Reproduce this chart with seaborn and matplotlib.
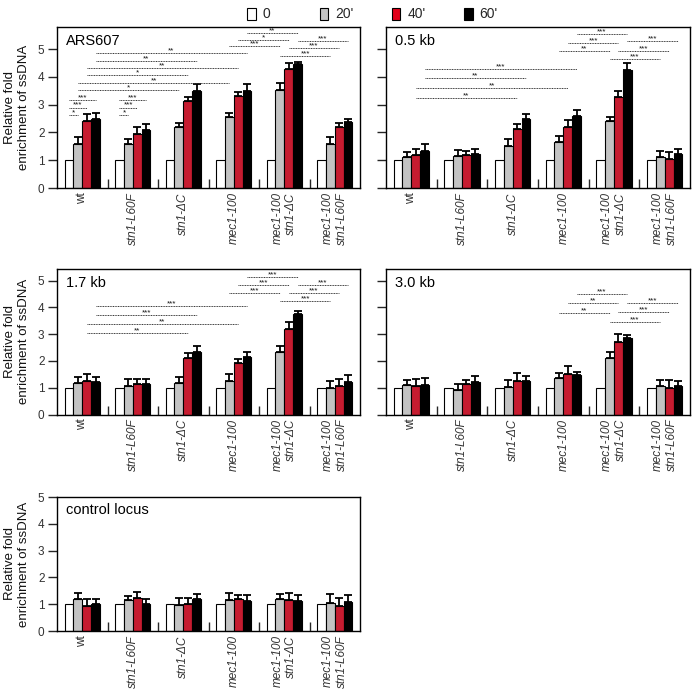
import numpy as np
import pandas as pd
import matplotlib
matplotlib.use("Agg")
import matplotlib.pyplot as plt
import seaborn as sns
from matplotlib.patches import Patch
from matplotlib.ticker import FixedLocator

# ---------------- data ----------------
genotypes = ["wt", "stn1-L60F", "stn1-ΔC", "mec1-100",
             "mec1-100\nstn1-ΔC", "mec1-100\nstn1-L60F"]
times = ["0", "20'", "40'", "60'"]
time_colors = ["#ffffff", "#c3c3c3", "#e2001a", "#000000"]

panel_titles = ["ARS607", "0.5 kb", "1.7 kb", "3.0 kb", "control locus"]

# means (0 min is always 1)
ars_t20 = [1.60, 1.60, 2.18, 2.57, 3.52, 1.58]
ars_t40 = [2.41, 1.96, 3.13, 3.31, 4.27, 2.20]
ars_t60 = [2.47, 2.08, 3.48, 3.51, 4.45, 2.37]
ars_e20 = [0.22, 0.18, 0.16, 0.12, 0.25, 0.24]
ars_e40 = [0.24, 0.22, 0.16, 0.16, 0.22, 0.13]
ars_e60 = [0.22, 0.23, 0.27, 0.22, 0.10, 0.10]

kb05_t20 = [1.12, 1.16, 1.53, 1.65, 2.41, 1.12]
kb05_t40 = [1.18, 1.20, 2.11, 2.18, 3.29, 1.05]
kb05_t60 = [1.34, 1.24, 2.47, 2.59, 4.24, 1.22]
kb05_e20 = [0.16, 0.20, 0.22, 0.24, 0.16, 0.23]
kb05_e40 = [0.24, 0.13, 0.20, 0.28, 0.20, 0.23]
kb05_e60 = [0.24, 0.15, 0.20, 0.21, 0.25, 0.20]

kb17_t20 = [1.19, 1.07, 1.16, 1.26, 2.32, 1.00]
kb17_t40 = [1.26, 1.12, 2.12, 1.93, 3.19, 1.07]
kb17_t60 = [1.20, 1.14, 2.34, 2.16, 3.74, 1.20]
kb17_e20 = [0.20, 0.24, 0.24, 0.24, 0.23, 0.26]
kb17_e40 = [0.27, 0.19, 0.19, 0.14, 0.25, 0.24]
kb17_e60 = [0.21, 0.20, 0.21, 0.18, 0.11, 0.26]

kb30_t20 = [1.11, 0.91, 1.02, 1.37, 2.09, 1.06]
kb30_t40 = [1.06, 1.15, 1.24, 1.52, 2.69, 1.00]
kb30_t60 = [1.11, 1.20, 1.24, 1.47, 2.86, 1.07]
kb30_e20 = [0.16, 0.24, 0.25, 0.19, 0.23, 0.21]
kb30_e40 = [0.28, 0.15, 0.31, 0.29, 0.31, 0.27]
kb30_e60 = [0.25, 0.25, 0.18, 0.10, 0.09, 0.18]

ctl_t20 = [1.18, 1.16, 0.96, 1.14, 1.21, 1.05]
ctl_t40 = [0.93, 1.23, 0.99, 1.18, 1.16, 0.93]
ctl_t60 = [0.99, 0.99, 1.19, 1.11, 1.11, 1.08]
ctl_e20 = [0.25, 0.13, 0.29, 0.26, 0.18, 0.34]
ctl_e40 = [0.25, 0.21, 0.26, 0.18, 0.27, 0.31]
ctl_e60 = [0.22, 0.20, 0.19, 0.25, 0.22, 0.25]

# significance: (group1, time1, group2, time2, y, label)
ars_sig = [(0, 0, 0, 1, 2.63, "*"), (0, 0, 0, 2, 2.90, "***"), (0, 0, 0, 3, 3.18, "***"),
           (1, 0, 1, 1, 2.63, "*"), (1, 0, 1, 2, 2.90, "***"), (1, 0, 1, 3, 3.18, "***"),
           (0, 1, 2, 1, 3.52, "*"), (0, 1, 3, 1, 3.80, "**"), (0, 2, 2, 2, 4.07, "*"),
           (0, 2, 3, 2, 4.34, "**"), (0, 3, 2, 3, 4.59, "**"), (0, 3, 3, 3, 4.86, "**"),
           (3, 1, 4, 1, 5.12, "***"), (3, 2, 4, 2, 5.34, "*"), (3, 3, 4, 3, 5.58, "**"),
           (4, 1, 5, 1, 4.76, "***"), (4, 2, 5, 2, 5.04, "***"), (4, 3, 5, 3, 5.31, "***")]
kb05_sig = [(0, 2, 2, 2, 3.25, "**"), (0, 2, 3, 2, 3.61, "**"), (0, 3, 2, 3, 3.95, "**"),
            (0, 3, 3, 3, 4.29, "***"),
            (3, 1, 4, 1, 4.95, "**"), (3, 2, 4, 2, 5.24, "***"), (3, 3, 4, 3, 5.53, "***"),
            (4, 1, 5, 1, 4.63, "***"), (4, 2, 5, 2, 4.95, "***"), (4, 3, 5, 3, 5.28, "***")]
kb17_sig = [(0, 2, 2, 2, 3.05, "**"), (0, 2, 3, 2, 3.39, "**"), (0, 3, 2, 3, 3.71, "***"),
            (0, 3, 3, 3, 4.04, "***"),
            (3, 1, 4, 1, 4.53, "***"), (3, 2, 4, 2, 4.83, "***"), (3, 3, 4, 3, 5.13, "***"),
            (4, 1, 5, 1, 4.23, "***"), (4, 2, 5, 2, 4.53, "***"), (4, 3, 5, 3, 4.84, "***")]
kb30_sig = [(3, 1, 4, 1, 3.79, "**"), (3, 2, 4, 2, 4.15, "**"), (3, 3, 4, 3, 4.51, "***"),
            (4, 1, 5, 1, 3.44, "***"), (4, 2, 5, 2, 3.81, "***"), (4, 3, 5, 3, 4.16, "***")]
ctl_sig = []

# ---------------- style ----------------
sns.set_style("ticks")
plt.rcParams["font.family"] = ["Liberation Sans", "DejaVu Sans"]
plt.rcParams["axes.linewidth"] = 1.0

fig = plt.figure(figsize=(6.93, 6.95), dpi=100)
W, H = 693.0, 695.0


def rect(x0, x1, ytop, ybot):
    return [x0 / W, 1 - ybot / H, (x1 - x0) / W, (ybot - ytop) / H]


panels = [
    dict(title=panel_titles[0], t=(ars_t20, ars_t40, ars_t60), e=(ars_e20, ars_e40, ars_e60),
         sig=ars_sig, rect=rect(57, 360, 27, 188), ymax=5.8, ylab=True),
    dict(title=panel_titles[1], t=(kb05_t20, kb05_t40, kb05_t60), e=(kb05_e20, kb05_e40, kb05_e60),
         sig=kb05_sig, rect=rect(386, 690, 27, 188), ymax=5.8, ylab=False),
    dict(title=panel_titles[2], t=(kb17_t20, kb17_t40, kb17_t60), e=(kb17_e20, kb17_e40, kb17_e60),
         sig=kb17_sig, rect=rect(57, 360, 269, 414.5), ymax=5.43, ylab=True),
    dict(title=panel_titles[3], t=(kb30_t20, kb30_t40, kb30_t60), e=(kb30_e20, kb30_e40, kb30_e60),
         sig=kb30_sig, rect=rect(386, 690, 269, 414.5), ymax=5.43, ylab=False),
    dict(title=panel_titles[4], t=(ctl_t20, ctl_t40, ctl_t60), e=(ctl_e20, ctl_e40, ctl_e60),
         sig=ctl_sig, rect=rect(57, 360, 497, 631), ymax=5.0, ylab=True),
]

for p in panels:
    ax = fig.add_axes(p["rect"])
    vals = [[1.0] * len(genotypes)] + [list(v) for v in p["t"]]
    errs = [[0.0] * len(genotypes)] + [list(v) for v in p["e"]]
    rows = []
    for ti, tname in enumerate(times):
        for gi, g in enumerate(genotypes):
            rows.append(dict(genotype=g, time=tname, value=vals[ti][gi]))
    df = pd.DataFrame(rows)
    sns.barplot(data=df, x="genotype", y="value", hue="time", order=genotypes,
                hue_order=times, palette=dict(zip(times, time_colors)),
                edgecolor="black", linewidth=0.8, width=0.7, errorbar=None,
                legend=False, ax=ax, zorder=2)
    bars = list(ax.containers)[:len(times)]
    # error bars (upward only)
    for ti, cont in enumerate(bars):
        if ti == 0:
            continue
        xs = [b.get_x() + b.get_width() / 2 for b in cont]
        hs = [b.get_height() for b in cont]
        ax.errorbar(xs, hs, yerr=[np.zeros(len(xs)), errs[ti]], fmt="none",
                    ecolor="black", elinewidth=1.3, capsize=2.6, capthick=1.3, zorder=3)
    # significance lines
    for g1, t1, g2, t2, y, lab in p["sig"]:
        b1 = bars[t1][g1]
        b2 = bars[t2][g2]
        x1 = b1.get_x() + b1.get_width() / 2
        x2 = b2.get_x() + b2.get_width() / 2
        ax.plot([x1, x2], [y, y], color="#333333", lw=0.7, ls=(0, (1, 0.7)),
                clip_on=False, zorder=4)
        ax.annotate(lab, xy=((x1 + x2) / 2, y), xytext=(0, -1.0), textcoords="offset points",
                    ha="center", va="bottom", fontsize=5.8, color="#111111",
                    annotation_clip=False)

    ax.set_xlim(-0.5, len(genotypes) - 0.5)
    ax.set_ylim(0, p["ymax"])
    ax.set_yticks([0, 1, 2, 3, 4, 5])
    ax.tick_params(axis="y", direction="out", length=6.5, width=1.0, labelsize=8.5,
                   labelcolor="#333333", pad=2.5)
    if not p["ylab"]:
        ax.set_yticklabels([])
        ax.set_ylabel("")
    else:
        ax.set_ylabel("Relative fold\nenrichment of ssDNA", fontsize=9.5, labelpad=6,
                      color="#111111")
    ax.set_xlabel("")
    ax.xaxis.set_minor_locator(FixedLocator([i + 0.5 for i in range(len(genotypes) - 1)]))
    ax.tick_params(axis="x", which="minor", direction="in", length=6.5, width=1.0)
    ax.tick_params(axis="x", which="major", length=0, pad=3)
    ax.set_xticks(range(len(genotypes)))
    ax.set_xticklabels(genotypes, rotation=90, fontsize=8.5, ha="center", va="top",
                       multialignment="right", color="#333333")
    for lbl in ax.get_xticklabels():
        if lbl.get_text() != "wt":
            lbl.set_style("italic")
    for s in ax.spines.values():
        s.set_visible(True)
        s.set_linewidth(1.0)
        s.set_color("black")
    ax.text(0.03, 0.955, p["title"], transform=ax.transAxes, ha="left", va="top",
            fontsize=10.5, color="black")

# legend: one entry per time point, evenly spaced along the top
legend_x = [247, 319.5, 391.6, 464]
for c, lab, xpx in zip(time_colors, times, legend_x):
    h = Patch(facecolor=c, edgecolor="black", linewidth=0.8)
    fig.legend([h], [lab], loc="center left", bbox_to_anchor=(xpx / W, 1 - 14.5 / H),
               frameon=False, fontsize=10, handlelength=0.62, handleheight=1.0,
               handletextpad=0.5, borderpad=0, borderaxespad=0)

fig.savefig("out.png", dpi=100)
